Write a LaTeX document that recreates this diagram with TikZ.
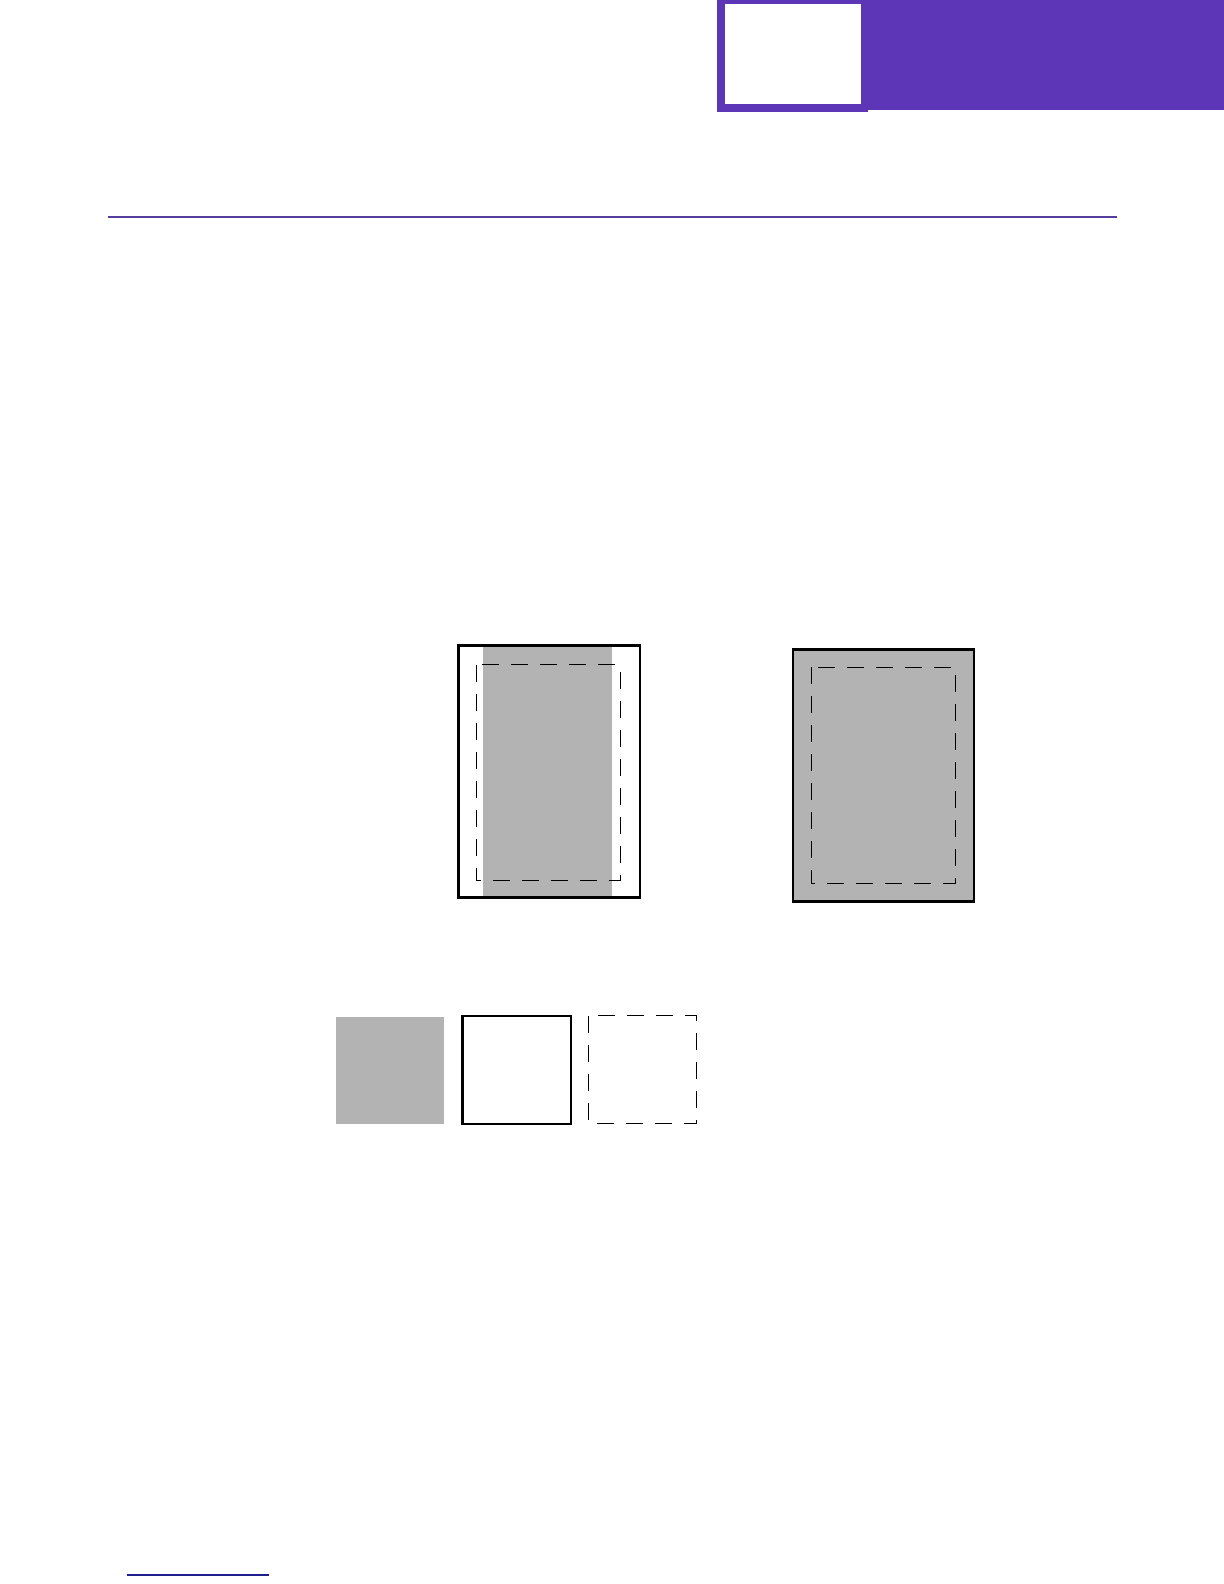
\documentclass[tikz,border=0pt]{standalone}
\usepackage{tikz}
\definecolor{bandPurple}{RGB}{92,54,183}
\definecolor{rulePurple}{RGB}{86,62,156}
\definecolor{footBlue}{RGB}{30,30,140}
\definecolor{printGray}{RGB}{179,179,179}
\newcommand{\pageScale}[0]{0.5pt}

\begin{document}
\begin{tikzpicture}[x=\pageScale, y=-\pageScale]
  \tikzset{sheet/.style={draw=black,line width=1.3pt},
           margin/.style={draw=black,line width=0.5pt,dash pattern=on 8.5pt off 6pt},
           printed/.style={fill=printGray}}
  \useasboundingbox (0,0) rectangle (1224,1584);
  % header band
  \fill[bandPurple] (717,0) rectangle (1224,110);
  \fill[bandPurple] (717,0) rectangle (868,112);
  \fill[white] (725,4) rectangle (861,104);
  \draw[rulePurple,line width=1.1pt] (108,217) -- (1117,217);
  % left sheet
  \coordinate (lnw) at (458.5,645.5);
  \coordinate (lse) at (640,897.5);
  \fill[printed] (483,645.5) rectangle (611.5,897.5);
  \draw[margin] (476,664.5) rectangle (620,880);
  \draw[sheet] (lnw) rectangle (lse);
  % right sheet
  \coordinate (rnw) at (793,649.5);
  \coordinate (rse) at (974,901.5);
  \filldraw[printed,sheet] (rnw) rectangle (rse);
  \draw[margin] (811,667) rectangle (955,883);
  % key
  \fill[printed] (335.5,1017) rectangle (443.5,1123.5);
  \draw[sheet] (462.5,1016) rectangle (571,1124);
  \draw[margin] (588.5,1015.5) rectangle (696.5,1123.5);
  % footer
  \draw[footBlue,line width=0.6pt] (127,1575) -- (269,1575);
\end{tikzpicture}
\end{document}
